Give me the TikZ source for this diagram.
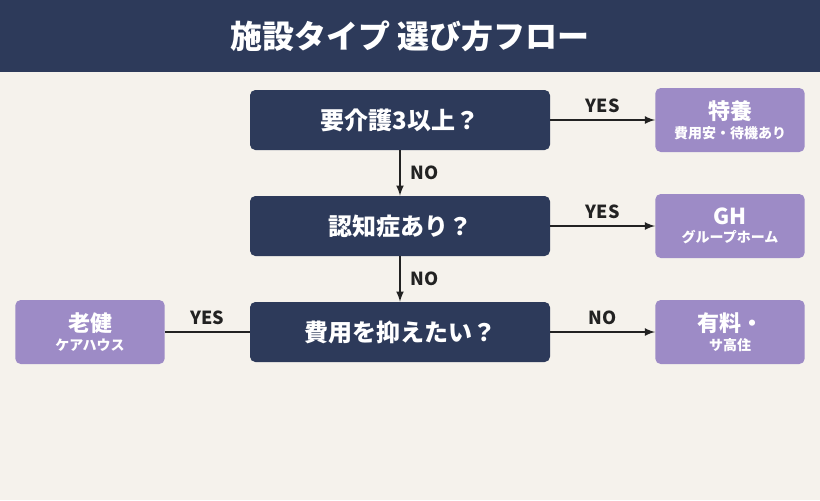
\documentclass[tikz,border=0pt]{standalone}
\usepackage{fontspec}
\setmainfont{Noto Sans CJK JP}
\usetikzlibrary{positioning}
\definecolor{navy}{HTML}{2D3A5A}
\definecolor{paper}{HTML}{F5F2EC}
\definecolor{lilac}{HTML}{9D8BC6}
\definecolor{ink}{HTML}{222222}
\newcommand\subtxt[1]{{\bfseries\fontsize{10.5}{12}\selectfont #1}}
\tikzset{
  ask/.style={fill=navy,rounded corners=4pt,minimum width=225pt,minimum height=45pt,
    text=white,font=\bfseries\fontsize{18}{20}\selectfont},
  pick/.style={fill=lilac,rounded corners=4pt,minimum width=112pt,minimum height=48pt,
    text=white,align=center,font=\bfseries\fontsize{16.5}{17}\selectfont},
  flow/.style={draw=ink,line width=1.6pt},
  tag/.style={text=ink,font=\bfseries\fontsize{13.5}{14}\selectfont}
}
\begin{document}
\begin{tikzpicture}[x=0.75pt,y=-0.75pt]
    \fill[paper] (0,0) rectangle (820,500);
    \fill[navy] (0,0) rectangle (820,72);
    \node[text=white,font=\bfseries\fontsize{24}{26}\selectfont] (title) at (410,36) {施設タイプ 選び方フロー};
    \node[ask] (q1) at (400,120) {要介護3以上？};
    \node[ask] (q2) at (400,226) {認知症あり？};
    \node[ask] (q3) at (400,332) {費用を抑えたい？};
    \node[pick] (r1) at (730,120) {特養\\[-3pt]\subtxt{費用安・待機あり}};
    \node[pick] (r2) at (730,226) {GH\\[-3pt]\subtxt{グループホーム}};
    \node[pick] (r3) at (730,332) {有料・\\[-3pt]\subtxt{サ高住}};
    \node[pick] (r4) at (90,332) {老健\\[-3pt]\subtxt{ケアハウス}};
    \draw[flow,-latex] (q1) -- node[tag,above=1pt]{YES} (r1);
    \draw[flow,-latex] (q2) -- node[tag,above=1pt]{YES} (r2);
    \draw[flow,-latex] (q3) -- node[tag,above=1pt]{NO} (r3);
    \draw[flow] (q3) -- node[tag,above=1pt]{YES} (r4);
    \draw[flow,-latex] (q1) -- node[tag,right=4pt]{NO} (q2);
    \draw[flow,-latex] (q2) -- node[tag,right=4pt]{NO} (q3);
\end{tikzpicture}
\end{document}
